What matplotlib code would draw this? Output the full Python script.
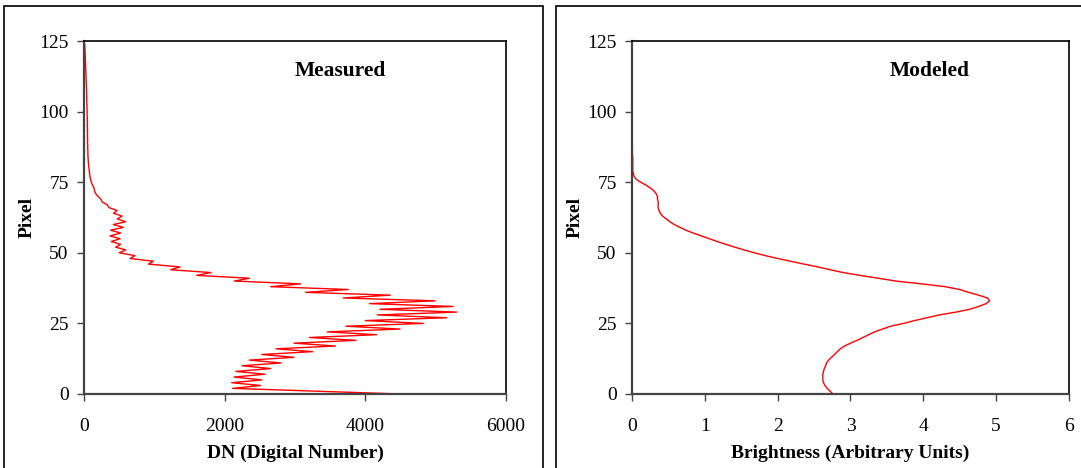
import matplotlib
matplotlib.use("Agg")
import matplotlib.pyplot as plt
from matplotlib.patches import Rectangle

plt.rcParams['font.family'] = ['Liberation Serif', 'DejaVu Serif']

# measured profile, one DN value per pixel (pixel 0 at bottom)
measured_dn = [
    4500, 3300, 2114, 2512, 2100, 2530, 2133, 2574, 2161, 2655,
    2247, 2801, 2351, 2986, 2527, 3252, 2730, 3574, 2986, 3867,
    3204, 4161, 3460, 4493, 3725, 4825, 4000, 5157, 4171, 5299,
    4209, 5250, 4060, 4991, 3687, 4355, 3152, 3758, 2655, 3081,
    2137, 2351, 1602, 1806, 1232, 1365, 915, 986, 654, 725,
    502, 593, 450, 521, 389, 512, 370, 521, 379, 559,
    417, 593, 474, 540, 420, 470, 355, 330, 260, 240,
    199, 166, 150, 142, 120, 104, 95, 85, 80, 76,
    70, 66, 62, 60, 57, 55, 56, 52, 54, 50,
    52, 49, 51, 48, 50, 47, 49, 46, 47, 44,
    45, 42, 43, 40, 41, 38, 39, 36, 37, 34,
    33, 31, 30, 28, 27, 25, 24, 22, 20, 18,
    17, 15, 14, 12, 10,
]
measured_px = list(range(len(measured_dn)))

# modeled profile, brightness per pixel
modeled_b = [
    2.76, 2.72, 2.68, 2.65, 2.63, 2.62, 2.62, 2.62, 2.63, 2.64,
    2.66, 2.67, 2.70, 2.74, 2.78, 2.82, 2.86, 2.92, 3.00, 3.09,
    3.17, 3.25, 3.33, 3.44, 3.55, 3.73, 3.88, 4.05, 4.22, 4.45,
    4.64, 4.76, 4.86, 4.91, 4.88, 4.76, 4.62, 4.50, 4.30, 3.98,
    3.62, 3.38, 3.13, 2.90, 2.72, 2.55, 2.36, 2.18, 2.00, 1.83,
    1.68, 1.54, 1.41, 1.29, 1.17, 1.06, 0.95, 0.84, 0.74, 0.66,
    0.58, 0.52, 0.47, 0.42, 0.39, 0.37, 0.36, 0.36, 0.36, 0.35,
    0.35, 0.33, 0.30, 0.25, 0.19, 0.12, 0.06, 0.03, 0.02, 0.01,
    0.01, 0.01, 0.01, 0.01, 0.01, 0.005, 0.005, 0.005, 0.005, 0.005,
    0.0, 0.0,
]
modeled_px = list(range(len(modeled_b)))

y_ticks = [0, 25, 50, 75, 100, 125]
dn_ticks = [0, 2000, 4000, 6000]
b_ticks = [0, 1, 2, 3, 4, 5, 6]

fig = plt.figure(figsize=(10.81, 4.68), dpi=100)

# outer chart frames
fig.patches.append(Rectangle((4 / 1081, -0.2), 539 / 1081, 1.2 - 6 / 468,
                             transform=fig.transFigure, fill=False,
                             edgecolor='black', linewidth=1.2))
fig.patches.append(Rectangle((556 / 1081, -0.2), 0.6, 1.2 - 6 / 468,
                             transform=fig.transFigure, fill=False,
                             edgecolor='black', linewidth=1.2))

bottom = 1 - 394 / 468
height = (394 - 41) / 468
ax1 = fig.add_axes([84 / 1081, bottom, 422 / 1081, height])
ax2 = fig.add_axes([632 / 1081, bottom, 437 / 1081, height])


def style(ax, xticks, xlabel, title, tx):
    ax.set_ylim(0, 125)
    ax.set_yticks(y_ticks)
    ax.set_xticks(xticks)
    ax.set_xlim(xticks[0], xticks[-1])
    ax.tick_params(axis='both', direction='out', length=5, width=1,
                   labelsize=14, color='#444444')
    ax.tick_params(axis='x', pad=12)
    ax.tick_params(axis='y', pad=6)
    for s in ['left', 'bottom']:
        ax.spines[s].set_color('#444444')
        ax.spines[s].set_linewidth(1.6)
    for s in ['top', 'right']:
        ax.spines[s].set_color('black')
        ax.spines[s].set_linewidth(1.2)
    ax.set_ylabel('Pixel', fontsize=14, fontweight='bold', labelpad=3)
    ax.set_xlabel(xlabel, fontsize=14, fontweight='bold', labelpad=7)
    ax.text(tx, 0.915, title, transform=ax.transAxes, fontsize=15.5,
            fontweight='bold', ha='center', va='center')


ax1.plot(measured_dn, measured_px, color='red', linewidth=1.0)
style(ax1, dn_ticks, 'DN (Digital Number)', 'Measured', 0.607)

ax2.plot(modeled_b, modeled_px, color='red', linewidth=1.0)
style(ax2, b_ticks, 'Brightness (Arbitrary Units)', 'Modeled', 0.682)

fig.savefig('out.png', dpi=100)
